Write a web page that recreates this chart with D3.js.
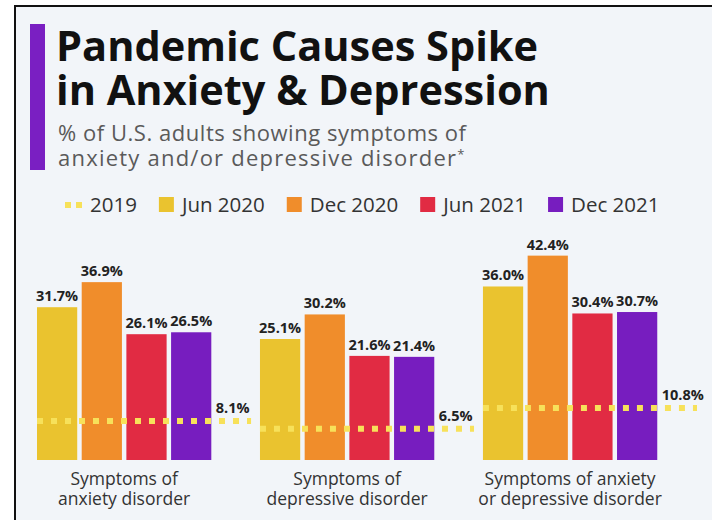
<!DOCTYPE html>
<html>
<head>
<meta charset="utf-8">
<script src="https://cdn.jsdelivr.net/npm/d3@7"></script>
<style>
html,body{margin:0;padding:0;background:#fff;}
svg{display:block;}
text{font-family:"Open Sans","Noto Sans",sans-serif;}
</style>
</head>
<body>
<svg id="chart" width="712" height="520"></svg>
<script>
// ---- data ----
const categories = [
  ["Symptoms of", "anxiety disorder"],
  ["Symptoms of", "depressive disorder"],
  ["Symptoms of anxiety", "or depressive disorder"]
];
const seriesNames = ["Jun 2020", "Dec 2020", "Jun 2021", "Dec 2021"];
const seriesColors = ["#eac32f", "#f08d2b", "#e12b43", "#771dbf"];
const jun2020 = [31.7, 25.1, 36.0];
const dec2020 = [36.9, 30.2, 42.4];
const jun2021 = [26.1, 21.6, 30.4];
const dec2021 = [26.5, 21.4, 30.7];
const baseline2019 = [8.1, 6.5, 10.8];
const baselineName = "2019";
const baselineColor = "#f7e15a";
const seriesValues = [jun2020, dec2020, jun2021, dec2021];

const svg = d3.select("#chart");

// background + frame
svg.append("rect").attr("x", 0).attr("y", 0).attr("width", 712).attr("height", 520).attr("fill", "#ffffff");
svg.append("rect").attr("x", 15).attr("y", 6).attr("width", 697).attr("height", 514).attr("fill", "#f2f5f9");
svg.append("line").attr("x1", 14).attr("x2", 712).attr("y1", 6).attr("y2", 6).attr("stroke", "#111").attr("stroke-width", 2);
svg.append("line").attr("x1", 15).attr("x2", 15).attr("y1", 5).attr("y2", 520).attr("stroke", "#111").attr("stroke-width", 2);

// title block
svg.append("rect").attr("x", 30).attr("y", 24).attr("width", 15).attr("height", 146).attr("fill", "#7a1fc2");
const title = svg.append("text").attr("font-weight", 700).attr("font-size", 41.5).attr("fill", "#111");
title.append("tspan").attr("x", 56).attr("y", 61).text("Pandemic Causes Spike");
title.append("tspan").attr("x", 56).attr("y", 105).text("in Anxiety & Depression");
const sub = svg.append("text").attr("font-size", 22).attr("fill", "#5a5a5a");
sub.append("tspan").attr("x", 58).attr("y", 141).attr("textLength", 408).attr("lengthAdjust", "spacing")
  .text("% of U.S. adults showing symptoms of");
sub.append("tspan").attr("x", 58).attr("y", 166).attr("textLength", 398).attr("lengthAdjust", "spacing")
  .text("anxiety and/or depressive disorder");
sub.append("tspan").attr("dy", -7).attr("font-size", 13).text("*");

// legend
const legend = svg.append("g").attr("transform", "translate(65,205)");
let lx = 0;
{
  const g = legend.append("g").attr("transform", `translate(${lx},0)`);
  g.append("line").attr("x1", 0).attr("x2", 17).attr("y1", 0).attr("y2", 0)
    .attr("stroke", baselineColor).attr("stroke-width", 6).attr("stroke-dasharray", "6 5");
  const t = g.append("text").attr("x", 25).attr("y", 7).attr("font-size", 20.5).attr("fill", "#333").text(baselineName);
  lx += 25 + t.node().getComputedTextLength() + 22;
}
seriesNames.forEach((n, i) => {
  const g = legend.append("g").attr("transform", `translate(${lx},0)`);
  g.append("rect").attr("x", 0).attr("y", -8).attr("width", 15).attr("height", 15).attr("fill", seriesColors[i]);
  const t = g.append("text").attr("x", 23).attr("y", 7).attr("font-size", 20.5).attr("fill", "#333").text(n);
  lx += 23 + t.node().getComputedTextLength() + 22;
});

// scales
const x0 = d3.scaleBand().domain(d3.range(categories.length)).range([37, 697]).paddingInner(0.04).paddingOuter(0);
const inner = d3.scaleBand().domain([...seriesNames, baselineName]).range([0, 219]).paddingInner(0.1).paddingOuter(0);
const y = d3.scaleLinear().domain([0, 45]).range([460, 243.1]);

const groups = svg.append("g").selectAll("g").data(categories).join("g")
  .attr("transform", (d, i) => `translate(${x0(i)},0)`);

groups.each(function(cat, ci) {
  const g = d3.select(this);
  seriesNames.forEach((s, si) => {
    const v = seriesValues[si][ci];
    g.append("rect").attr("x", inner(s)).attr("y", y(v)).attr("width", inner.bandwidth())
      .attr("height", y(0) - y(v)).attr("fill", seriesColors[si]);
    g.append("text").attr("x", inner(s) + inner.bandwidth() / 2).attr("y", y(v) - 6)
      .attr("text-anchor", "middle").attr("font-size", 14.5).attr("font-weight", 700).attr("fill", "#222")
      .text(v.toFixed(1) + "%");
  });
  const b = baseline2019[ci];
  g.append("line").attr("x1", 0).attr("x2", x0.bandwidth()).attr("y1", y(b)).attr("y2", y(b))
    .attr("stroke", baselineColor).attr("stroke-width", 6).attr("stroke-dasharray", "6 8");
  g.append("text").attr("x", inner(baselineName)).attr("y", y(b) - 8)
    .attr("font-size", 14.5).attr("font-weight", 700).attr("fill", "#222").text(b.toFixed(1) + "%");
  const cx = (inner(seriesNames[0]) + inner(seriesNames[3]) + inner.bandwidth()) / 2;
  const lab = g.append("text").attr("text-anchor", "middle").attr("font-size", 17.5).attr("fill", "#333");
  lab.append("tspan").attr("x", cx).attr("y", 485).text(cat[0]);
  lab.append("tspan").attr("x", cx).attr("y", 505).text(cat[1]);
});
</script>
</body>
</html>
